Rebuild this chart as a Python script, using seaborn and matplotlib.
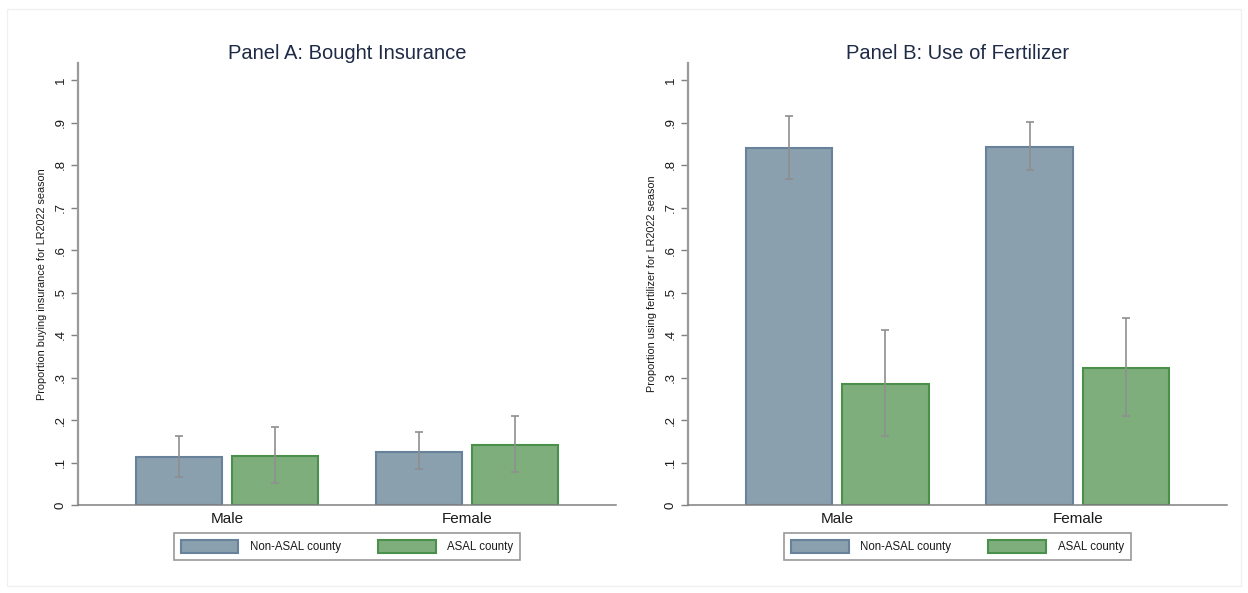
import matplotlib
matplotlib.use("Agg")
import matplotlib.pyplot as plt
import matplotlib.patches as mpatches
import numpy as np
import pandas as pd
import seaborn as sns

# ---- data -------------------------------------------------------------
genders = ["Male", "Female"]
groups = ["Non-ASAL county", "ASAL county"]

# Panel A: share buying insurance (mean, lower CI, upper CI)
ins_non_asal = [0.112, 0.125]
ins_non_asal_lo = [0.067, 0.084]
ins_non_asal_hi = [0.162, 0.171]
ins_asal = [0.116, 0.141]
ins_asal_lo = [0.052, 0.077]
ins_asal_hi = [0.184, 0.209]

# Panel B: share using fertilizer (mean, lower CI, upper CI)
fert_non_asal = [0.839, 0.843]
fert_non_asal_lo = [0.767, 0.788]
fert_non_asal_hi = [0.915, 0.902]
fert_asal = [0.284, 0.323]
fert_asal_lo = [0.162, 0.209]
fert_asal_hi = [0.411, 0.439]

yticks = [0, 0.1, 0.2, 0.3, 0.4, 0.5, 0.6, 0.7, 0.8, 0.9, 1.0]
ytick_labels = ["0", ".1", ".2", ".3", ".4", ".5", ".6", ".7", ".8", ".9", "1"]

titles = ["Panel A: Bought Insurance", "Panel B: Use of Fertilizer"]
ylabels = ["Proportion buying insurance for LR2022 season",
           "Proportion using fertilizer for LR2022 season"]

fills = {"Non-ASAL county": "#8ba0ae", "ASAL county": "#7fae7d"}
edges = {"Non-ASAL county": "#67829a", "ASAL county": "#4a904a"}


def panel_frame(nonasal, nonasal_lo, nonasal_hi, asal, asal_lo, asal_hi):
    rows = []
    for grp, m, lo, hi in [(groups[0], nonasal, nonasal_lo, nonasal_hi),
                           (groups[1], asal, asal_lo, asal_hi)]:
        for g, mv, lv, hv in zip(genders, m, lo, hi):
            rows.append({"gender": g, "county": grp, "mean": mv, "lo": lv, "hi": hv})
    return pd.DataFrame(rows)


panels = [
    panel_frame(ins_non_asal, ins_non_asal_lo, ins_non_asal_hi,
                ins_asal, ins_asal_lo, ins_asal_hi),
    panel_frame(fert_non_asal, fert_non_asal_lo, fert_non_asal_hi,
                fert_asal, fert_asal_lo, fert_asal_hi),
]

# ---- figure -----------------------------------------------------------
sns.set_theme(style="white")
plt.rcParams["font.family"] = ["Liberation Sans", "DejaVu Sans"]

W, H = 1248, 593
fig = plt.figure(figsize=(W / 100, H / 100), dpi=100)
fig.patch.set_facecolor("white")

# faint graph-region outline
fig.add_artist(mpatches.Rectangle((7 / W, 1 - 586 / H), 1234 / W, 577 / H,
                                  transform=fig.transFigure, fill=False,
                                  edgecolor="#f0f0f0", linewidth=1.0))

ax_boxes = [
    [78 / W, 1 - 505 / H, 538 / W, 442 / H],
    [688 / W, 1 - 505 / H, 539 / W, 442 / H],
]

spine_col = "#9a9a9a"
base_col = "#808080"
text_col = "#1a1a1a"

for i, df in enumerate(panels):
    ax = fig.add_axes(ax_boxes[i])
    sns.barplot(data=df, x="gender", y="mean", hue="county",
                order=genders, hue_order=groups, palette=fills,
                width=0.8, gap=0.1, errorbar=None, legend=False,
                linewidth=1.5, saturation=1, ax=ax)

    # outline colour per series, then confidence intervals at bar centres
    for grp, cont in zip(groups, ax.containers):
        sub = df[df["county"] == grp].set_index("gender").loc[genders]
        xs = []
        for bar in cont:
            bar.set_edgecolor(edges[grp])
            xs.append(bar.get_x() + bar.get_width() / 2)
        means = sub["mean"].to_numpy()
        yerr = np.vstack([means - sub["lo"].to_numpy(), sub["hi"].to_numpy() - means])
        ax.errorbar(xs, means, yerr=yerr, fmt="none", ecolor="#8f8f8f",
                    elinewidth=1.2, capsize=2.6, capthick=1.2, zorder=5)

    ax.set_xlim(-0.62, 1.62)
    ax.set_ylim(0, 1.04)
    ax.set_yticks(yticks)
    ax.set_yticklabels(ytick_labels, rotation=90, va="center",
                       fontsize=9.5, color=text_col)
    ax.tick_params(axis="y", direction="out", length=5.0, width=1.0,
                   color="#808080", pad=3, left=True)
    ax.tick_params(axis="x", length=0, pad=5, labelsize=11, labelcolor=text_col)
    ax.set_xlabel("")
    ax.set_ylabel(ylabels[i], fontsize=7.8, color=text_col, labelpad=6)

    for side in ["top", "right"]:
        ax.spines[side].set_visible(False)
    ax.spines["left"].set_color(spine_col)
    ax.spines["left"].set_linewidth(1.6)
    ax.spines["bottom"].set_color(base_col)
    ax.spines["bottom"].set_linewidth(1.1)

    ax.set_title(titles[i], fontsize=14.5, color="#1e2a46", pad=3)

    handles = [mpatches.Patch(facecolor=fills[g], edgecolor=edges[g],
                              linewidth=1.5, label=g) for g in groups]
    leg = ax.legend(handles=handles, loc="upper center",
                    bbox_to_anchor=(0.5, -0.063), ncol=2, frameon=True,
                    fancybox=False, fontsize=8.3, handlelength=5.0,
                    handleheight=1.35, handletextpad=1.0, columnspacing=3.2,
                    borderpad=0.6, borderaxespad=0)
    leg.get_frame().set_edgecolor("#7f7f7f")
    leg.get_frame().set_linewidth(1.2)
    for t in leg.get_texts():
        t.set_color(text_col)

fig.savefig("out.png", dpi=100, facecolor="white")
